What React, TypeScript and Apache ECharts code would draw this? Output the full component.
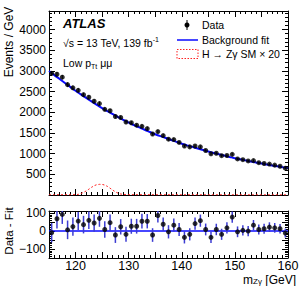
import React, { useEffect, useRef } from 'react';
import * as echarts from 'echarts';

// ---- data ----
const binCenters = [115.5, 116.5, 117.5, 118.5, 119.5, 120.5, 121.5, 122.5, 123.5, 124.5,
  125.5, 126.5, 127.5, 128.5, 129.5, 130.5, 131.5, 132.5, 133.5, 134.5,
  135.5, 136.5, 137.5, 138.5, 139.5, 140.5, 141.5, 142.5, 143.5, 144.5,
  145.5, 146.5, 147.5, 148.5, 149.5, 150.5, 151.5, 152.5, 153.5, 154.5,
  155.5, 156.5, 157.5, 158.5, 159.5];
const dataValues = [2941, 2921, 2850, 2669, 2592, 2532, 2426, 2365, 2267, 2211,
  2072, 2037, 1898, 1875, 1765, 1747, 1689, 1661, 1606, 1475,
  1533, 1438, 1350, 1341, 1271, 1185, 1164, 1186, 1164, 1077,
  998, 1010, 951, 955, 983, 872, 854, 824, 831, 781,
  761, 748, 722, 695, 649];
const dataErrors = [54, 54, 53, 52, 51, 50, 49, 49, 48, 47,
  46, 45, 44, 43, 42, 42, 41, 41, 40, 38,
  39, 38, 37, 37, 36, 34, 34, 34, 34, 33,
  32, 32, 31, 31, 31, 30, 29, 29, 29, 28,
  28, 27, 27, 26, 25];
const residuals = [-9, 69, 93, 7, 25, 56, 36, 60, 45, 71,
  9, 47, -22, 24, -18, 27, 27, 55, 55, -22,
  87, 38, -4, 33, 9, -35, -18, 42, 58, 9,
  -35, 9, -18, 18, 78, -4, 4, 0, 33, 9,
  13, 22, 18, 13, -11];
const fitX = [115, 116, 117, 118, 119, 120, 121, 122, 123, 124, 125, 126, 127, 128, 129, 130,
  131, 132, 133, 134, 135, 136, 137, 138, 139, 140, 141, 142, 143, 144, 145,
  146, 147, 148, 149, 150, 151, 152, 153, 154, 155, 156, 157, 158, 159, 160];
const fitY = [3000, 2900, 2805, 2710, 2615, 2520, 2433, 2347, 2263, 2181, 2100,
  2026, 1955, 1885, 1817, 1750, 1691, 1634, 1578, 1524, 1470,
  1423, 1377, 1331, 1285, 1240, 1201, 1163, 1125, 1087, 1050,
  1017, 985, 953, 921, 890, 863, 837, 811, 785, 760,
  737, 715, 693, 671, 650];
const sigX = [115, 116, 117, 118, 119, 120, 120.5, 121, 121.5, 122, 122.5, 123, 123.5, 124, 124.5,
  125, 125.5, 126, 126.5, 127, 127.5, 128, 128.5, 129, 130, 135, 140, 145, 150, 155, 160];
const sigY = [6, 6, 7, 7, 8, 10, 15, 35, 62, 98, 140, 185, 225, 250, 258,
  256, 240, 208, 165, 118, 76, 44, 24, 14, 9, 7, 6, 5, 5, 4, 4];
const xTickLabels = [120, 130, 140, 150, 160];
const upperYTickLabels = [500, 1000, 1500, 2000, 2500, 3000, 3500, 4000];
const lowerYTickLabels = [-100, 0, 100];

const FONT = '"Liberation Sans", Arial, Helvetica, sans-serif';
const BLUE = '#0a0aff';

function frameAxis(extra: any) {
  return {
    type: 'value',
    axisLine: { show: true, onZero: false, lineStyle: { color: '#000', width: 1 } },
    axisTick: { show: true, inside: true, length: 6, lineStyle: { color: '#000', width: 1 } },
    minorTick: { show: true, splitNumber: 5, length: 3, lineStyle: { color: '#000', width: 1 } },
    splitLine: { show: false },
    minorSplitLine: { show: false },
    axisLabel: { show: false },
    ...extra,
  };
}

export default function App() {
  const ref = useRef<HTMLDivElement>(null);
  useEffect(() => {
    if (!ref.current) return;
    const chart = echarts.init(ref.current, null, { renderer: 'svg' });
    const xCommon = { min: 115, max: 160, interval: 5 };
    const labelStyle = { color: '#000', fontFamily: FONT, fontSize: 12 };
    const errSeries = (xi: number, yi: number, rows: number[][], color: string, w: number) => ({
      type: 'custom',
      xAxisIndex: xi,
      yAxisIndex: yi,
      data: rows,
      encode: { x: 0, y: 1 },
      clip: true,
      renderItem: (params: any, api: any) => {
        const x = api.value(0), y = api.value(1), e = api.value(2);
        const a = api.coord([x, y + e]);
        const b = api.coord([x, y - e]);
        return {
          type: 'line',
          shape: { x1: a[0], y1: a[1], x2: b[0], y2: b[1] },
          style: { stroke: color, lineWidth: w },
        };
      },
    });
    const option: any = {
      animation: false,
      backgroundColor: '#fff',
      grid: [
        { left: 49, top: 11, width: 239, height: 184 },
        { left: 49, top: 211, width: 239, height: 47 },
      ],
      xAxis: [
        frameAxis({ gridIndex: 0, position: 'bottom', ...xCommon }),
        frameAxis({ gridIndex: 0, position: 'top', ...xCommon }),
        frameAxis({
          gridIndex: 1, position: 'bottom', ...xCommon,
          axisLabel: {
            show: true, margin: 1, ...labelStyle, fontSize: 12.5, lineHeight: 13,
            formatter: (v: number) => (xTickLabels.includes(v) ? String(v) : ''),
          },
        }),
        frameAxis({ gridIndex: 1, position: 'top', ...xCommon }),
      ],
      yAxis: [
        frameAxis({
          gridIndex: 0, position: 'left', min: 0, max: 4450, interval: 500,
          axisLabel: {
            show: true, margin: 3, ...labelStyle,
            formatter: (v: number) => (upperYTickLabels.includes(v) ? String(v) : ''),
          },
        }),
        frameAxis({ gridIndex: 0, position: 'right', min: 0, max: 4450, interval: 500 }),
        frameAxis({
          gridIndex: 1, position: 'left', min: -150, max: 112, interval: 50,
          axisLabel: {
            show: true, margin: 3, ...labelStyle,
            formatter: (v: number) => (lowerYTickLabels.includes(v) ? String(v).replace('-', '\u2212') : ''),
          },
        }),
        frameAxis({ gridIndex: 1, position: 'right', min: -150, max: 112, interval: 50 }),
      ],
      series: [
        {
          type: 'line', xAxisIndex: 0, yAxisIndex: 0, showSymbol: false, symbol: 'none',
          data: sigX.map((x, i) => [x, sigY[i]]),
          lineStyle: { color: '#ff2020', width: 1, type: [2, 2] },
          z: 2,
        },
        {
          type: 'line', xAxisIndex: 0, yAxisIndex: 0, showSymbol: false, symbol: 'none', smooth: true,
          data: fitX.map((x, i) => [x, fitY[i]]),
          lineStyle: { color: BLUE, width: 2 },
          z: 3,
        },
        { ...errSeries(0, 0, binCenters.map((x, i) => [x, dataValues[i], dataErrors[i]]), '#000', 1), z: 4 },
        {
          type: 'scatter', xAxisIndex: 0, yAxisIndex: 0, symbol: 'circle', symbolSize: 5,
          data: binCenters.map((x, i) => [x, dataValues[i]]),
          itemStyle: { color: '#000' }, z: 5,
        },
        {
          type: 'line', xAxisIndex: 2, yAxisIndex: 2, showSymbol: false, symbol: 'none',
          data: [[115, 0], [160, 0]],
          lineStyle: { color: BLUE, width: 1.5 }, z: 3,
        },
        { ...errSeries(2, 2, binCenters.map((x, i) => [x, residuals[i], dataErrors[i]]), '#3c3cd2', 1.5), z: 4 },
        {
          type: 'scatter', xAxisIndex: 2, yAxisIndex: 2, symbol: 'circle', symbolSize: 5,
          data: binCenters.map((x, i) => [x, residuals[i]]),
          itemStyle: { color: '#000' }, z: 5,
        },
      ],
      graphic: [
        {
          type: 'text', x: 9, y: 42, rotation: Math.PI / 2,
          style: { text: 'Events / GeV', font: `12px ${FONT}`, fill: '#000', textAlign: 'center', textVerticalAlign: 'middle' },
        },
        {
          type: 'text', x: 9, y: 231, rotation: Math.PI / 2,
          style: { text: 'Data - Fit', font: `11.5px ${FONT}`, fill: '#000', textAlign: 'center', textVerticalAlign: 'middle' },
        },
        {
          type: 'text', x: 63, y: 23,
          style: { text: 'ATLAS', font: `italic bold 13px ${FONT}`, fill: '#000', textAlign: 'left', textVerticalAlign: 'middle' },
        },
        {
          type: 'text', x: 63, y: 43,
          style: {
            text: '{a|\u221As = 13 TeV, 139 fb}{b|-1}', textAlign: 'left', textVerticalAlign: 'middle',
            rich: {
              a: { fontFamily: FONT, fontSize: 10.5, lineHeight: 14, fill: '#000', color: '#000' },
              b: { fontFamily: FONT, fontSize: 7, lineHeight: 8, verticalAlign: 'top', color: '#000' },
            },
          },
        },
        {
          type: 'text', x: 63, y: 63,
          style: {
            text: '{a|Low p}{b|Tt}{a| \u03BC\u03BC}', textAlign: 'left', textVerticalAlign: 'middle',
            rich: {
              a: { fontFamily: FONT, fontSize: 10.5, lineHeight: 14, color: '#000' },
              b: { fontFamily: FONT, fontSize: 7, lineHeight: 8, verticalAlign: 'bottom', color: '#000' },
            },
          },
        },
        // legend
        { type: 'line', shape: { x1: 187, y1: 20, x2: 187, y2: 30 }, style: { stroke: '#000', lineWidth: 1 } },
        { type: 'circle', shape: { cx: 187, cy: 25, r: 2.5 }, style: { fill: '#000' } },
        {
          type: 'text', x: 202, y: 25,
          style: { text: 'Data', font: `10.5px ${FONT}`, fill: '#000', textAlign: 'left', textVerticalAlign: 'middle' },
        },
        { type: 'line', shape: { x1: 177, y1: 40, x2: 198, y2: 40 }, style: { stroke: BLUE, lineWidth: 1.5 } },
        {
          type: 'text', x: 202, y: 40,
          style: { text: 'Background fit', font: `10.5px ${FONT}`, fill: '#000', textAlign: 'left', textVerticalAlign: 'middle' },
        },
        {
          type: 'rect', shape: { x: 177, y: 49.5, width: 21, height: 9 },
          style: { fill: 'none', stroke: '#ff2020', lineWidth: 1, lineDash: [1.5, 1.5] },
        },
        {
          type: 'text', x: 202, y: 54,
          style: { text: 'H \u2192 Z\u03B3 SM \u00D7 20', font: `10.5px ${FONT}`, fill: '#000', textAlign: 'left', textVerticalAlign: 'middle' },
        },
        {
          type: 'text', x: 296, y: 279.5,
          style: {
            text: '{a|m}{b|Z\u03B3}{a| [GeV]}', textAlign: 'right', textVerticalAlign: 'middle',
            rich: {
              a: { fontFamily: FONT, fontSize: 12, lineHeight: 12, color: '#000' },
              b: { fontFamily: FONT, fontSize: 8, lineHeight: 8, verticalAlign: 'bottom', color: '#000' },
            },
          },
        },
      ],
    };
    chart.setOption(option);
    return () => chart.dispose();
  }, []);
  return <div ref={ref} style={{ position: 'absolute', left: 0, top: 0, width: 303, height: 286 }} />;
}
